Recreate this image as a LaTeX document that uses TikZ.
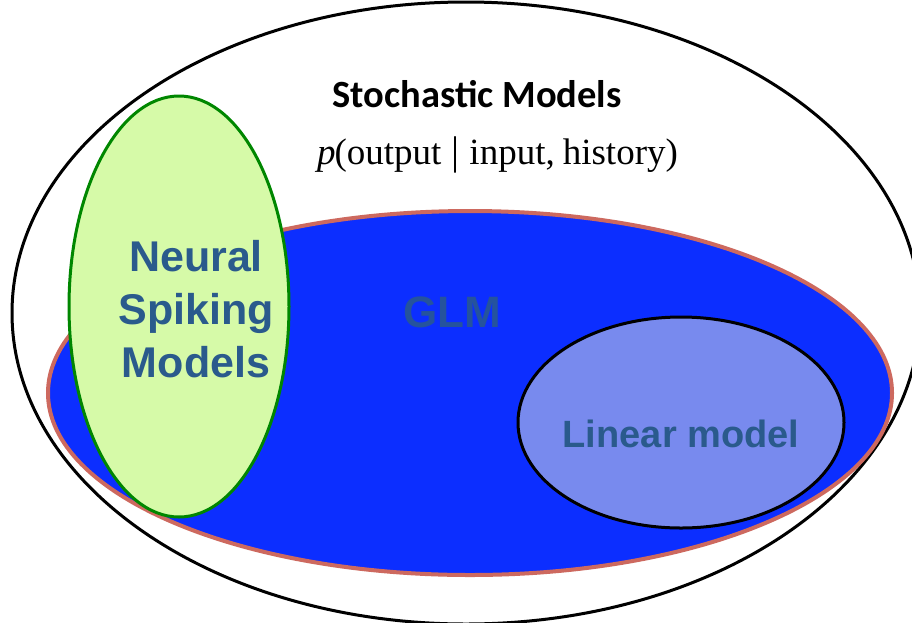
\documentclass[tikz,border=0pt]{standalone}
\usepackage{fontspec}
\setmainfont{Liberation Serif}
\newfontfamily\calfont{Carlito}
\newfontfamily\arialfont{Liberation Sans}
\usetikzlibrary{shapes.geometric}
\definecolor{glmblue}{RGB}{12,46,255}
\definecolor{glmborder}{RGB}{205,105,95}
\definecolor{nsmfill}{RGB}{214,250,168}
\definecolor{nsmborder}{RGB}{0,135,0}
\definecolor{linfill}{RGB}{120,138,238}
\definecolor{labelblue}{RGB}{42,90,140}
\tikzset{
  setshape/.style={ellipse, inner sep=0pt, outer sep=0pt},
  biglabel/.style={anchor=base, inner sep=0pt, text=labelblue, font=\arialfont\bfseries\fontsize{43}{53}\selectfont},
}
\begin{document}
\begin{tikzpicture}[x=1pt,y=-1pt]
\useasboundingbox (0,0) rectangle (912,622);
\fill[white] (0,0) rectangle (912,622);
% outer set
\node[setshape, draw=black, line width=3pt, minimum width=908pt, minimum height=622pt] (stoch) at (466,313) {};
% GLM set
\node[setshape, draw=glmborder, fill=glmblue, line width=4pt, minimum width=844pt, minimum height=364pt] (glm) at (470,393) {};
% linear model set
\node[setshape, draw=black, fill=linfill, line width=3pt, minimum width=326pt, minimum height=211pt] (lin) at (681,422.5) {};
% neural spiking set
\node[setshape, draw=nsmborder, fill=nsmfill, line width=3pt, minimum width=220pt, minimum height=421pt] (nsm) at (179,306.5) {};
% labels
\node[anchor=base, inner sep=0pt, font=\calfont\bfseries\fontsize{38.5}{46}\selectfont] (stochlabel) at (477,107) {Stochastic Models};
\node[anchor=base, inner sep=0pt, font=\fontsize{37}{44}\selectfont] (prob) at (497.5,164) {\textit{p}\kern-1pt(output\hspace{10pt}{\fontsize{40}{44}\selectfont|}\hspace{10pt}input,\hspace{8pt}history)};
\node[biglabel] (nsm1) at (196,271) {Neural};
\node[biglabel] (nsm2) at (196,324) {Spiking};
\node[biglabel] (nsm3) at (196,377) {Models};
\node[biglabel, text=labelblue!85!glmblue, font=\arialfont\bfseries\fontsize{44}{53}\selectfont] (glmlabel) at (452,327) {GLM};
\node[biglabel, font=\arialfont\bfseries\fontsize{38}{46}\selectfont] (linlabel) at (681,447) {Linear model};
\end{tikzpicture}
\end{document}
